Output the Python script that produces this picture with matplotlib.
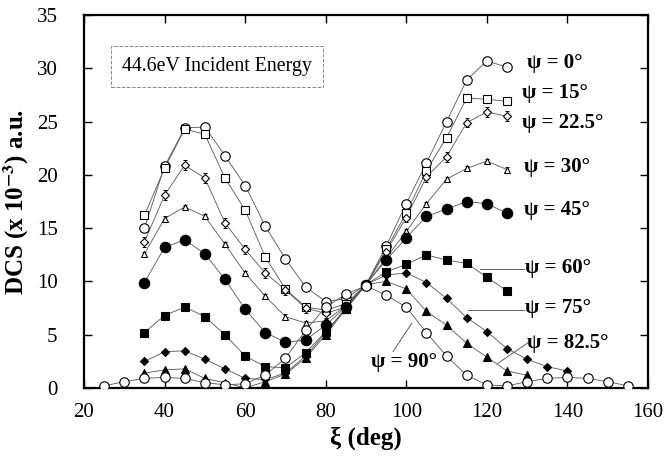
import matplotlib
matplotlib.use('Agg')
from matplotlib import pyplot as plt

# angles (deg) where points were measured
xi_a = [35, 40, 45, 50, 55, 60, 65, 70, 75, 80, 85, 90, 95, 100, 105, 110, 115, 120, 125]
xi_75 = xi_a + [130, 135, 140]
xi_825 = xi_a + [130]
xi_90 = [25, 30] + xi_a + [130, 135, 140, 145, 150, 155]

# DCS values (x 1e-3 a.u.)
dcs_0 = [15.0, 20.8, 24.4, 24.5, 21.8, 19.0, 15.2, 12.1, 9.5, 8.1, 8.4, 9.7,
         13.3, 17.3, 21.1, 25.0, 28.9, 30.7, 30.1]
dcs_15 = [16.2, 20.6, 24.3, 23.8, 19.7, 16.7, 12.3, 9.3, 7.6, 7.3, 7.9, 9.7,
          13.0, 16.4, 20.4, 23.5, 27.2, 27.1, 26.9]
dcs_225 = [13.7, 18.1, 20.9, 19.7, 15.5, 13.0, 10.8, 9.2, 7.5, 7.0, 7.6, 9.7,
           12.8, 16.0, 19.8, 21.7, 24.9, 25.9, 25.5]
dcs_30 = [12.6, 15.9, 17.0, 16.1, 13.5, 10.8, 8.6, 6.7, 6.1, 6.3, 7.7, 9.7,
          12.2, 14.7, 17.3, 19.6, 20.6, 21.3, 20.5]
dcs_45 = [9.9, 13.2, 13.9, 12.6, 10.2, 7.4, 5.2, 4.3, 4.5, 5.9, 7.6, 9.7,
          12.0, 14.1, 16.1, 16.8, 17.5, 17.3, 16.4]
dcs_60 = [5.2, 6.8, 7.6, 6.7, 5.0, 3.0, 2.0, 1.9, 3.3, 5.3, 7.4, 9.7,
          10.9, 11.6, 12.5, 12.0, 11.7, 10.4, 9.1]
dcs_75 = [2.5, 3.4, 3.5, 2.7, 1.8, 0.9, 0.8, 1.4, 3.0, 5.2, 7.5, 9.7,
          10.6, 10.8, 9.9, 8.4, 6.6, 5.3, 3.7, 2.7, 2.0, 1.6]
dcs_825 = [1.4, 1.7, 1.8, 0.9, 0.5, 0.0, 0.6, 1.3, 2.8, 5.0, 7.4, 9.7,
           10.0, 9.3, 7.2, 5.9, 4.2, 2.9, 1.6, 1.2]
dcs_90 = [0.2, 0.6, 0.9, 1.0, 0.9, 0.5, 0.3, 0.4, 1.2, 2.8, 5.4, 7.6, 8.8, 9.6,
          8.7, 7.6, 5.2, 3.0, 1.2, 0.3, 0.2, 0.6, 0.9, 1.0, 0.9, 0.6, 0.2]

labels = ['ψ = 0°', 'ψ = 15°', 'ψ = 22.5°', 'ψ = 30°', 'ψ = 45°',
          'ψ = 60°', 'ψ = 75°', 'ψ = 82.5°', 'ψ = 90°']

plt.rcParams['font.family'] = ['Liberation Serif', 'DejaVu Serif']
plt.rcParams['mathtext.fontset'] = 'stix'

fig = plt.figure(figsize=(6.65, 4.58), dpi=100)
ax = fig.add_axes([0.1263, 0.1528, 0.8481, 0.8144])

series = [
    (xi_a, dcs_0, 'o', 'white', 6.8, 0.35),
    (xi_a, dcs_15, 's', 'white', 5.5, 0.35),
    (xi_a, dcs_225, 'D', 'white', 3.8, 0.45),
    (xi_a, dcs_30, '^', 'white', 4.6, 0.2),
    (xi_a, dcs_45, 'o', 'black', 7.5, 0),
    (xi_a, dcs_60, 's', 'black', 6.0, 0),
    (xi_75, dcs_75, 'D', 'black', 4.5, 0),
    (xi_825, dcs_825, '^', 'black', 6.0, 0),
    (xi_90, dcs_90, 'o', 'white', 6.8, 0.3),
]

for xs, ys, mk, fc, ms, err in series:
    ax.plot(xs, ys, '-', color='#555555', lw=0.6, zorder=1)
    if err:
        ax.errorbar(xs, ys, yerr=err, fmt='none', ecolor='black',
                    elinewidth=0.7, capsize=1.5, capthick=0.7, zorder=2)
    ax.plot(xs, ys, ls='none', marker=mk, ms=ms, mfc=fc, mec='black',
            mew=0.8, zorder=3)

lab_font = dict(fontsize=15, fontweight='bold', va='center', ha='left')
ax.text(129.9, 30.5, labels[0], **lab_font)
ax.text(128.7, 27.7, labels[1], **lab_font)
ax.text(128.7, 24.9, labels[2], **lab_font)
ax.text(129.2, 20.7, labels[3], **lab_font)
ax.text(129.2, 16.7, labels[4], **lab_font)
ax.text(129.4, 11.3, labels[5], **lab_font)
ax.text(129.4, 7.5, labels[6], **lab_font)
ax.text(129.9, 4.2, labels[7], **lab_font)
ax.text(91.3, 2.4, labels[8], **lab_font)

# leader lines from labels to curves
ax.plot([118.3, 129.2], [11.2, 11.2], color='#444444', lw=0.6)
ax.plot([115.3, 129.2], [7.3, 7.3], color='#444444', lw=0.6)
ax.plot([122.7, 130.4], [2.3, 4.3], color='#444444', lw=0.6)
ax.plot([96.7, 101.4], [3.4, 6.1], color='#444444', lw=0.6)

ax.text(29.5, 30.15, '44.6eV Incident Energy', fontsize=14.3, va='center',
        ha='left', bbox=dict(boxstyle='square,pad=0.55', fc='white',
                             ec='#888888', ls='--', lw=0.7))

ax.set_xlim(20, 160)
ax.set_ylim(0, 35)
ax.set_xticks([20, 40, 60, 80, 100, 120, 140, 160])
ax.set_yticks([0, 5, 10, 15, 20, 25, 30, 35])
ax.tick_params(direction='in', length=6, width=1, top=True, right=True,
               labelsize=15)
ax.tick_params(axis='x', pad=11)
ax.tick_params(axis='y', pad=19)
for sp in ax.spines.values():
    sp.set_linewidth(1.6)

ax.set_xlabel('ξ (deg)', fontsize=18, fontweight='bold', labelpad=3)
ax.set_ylabel(r'DCS (x 10$^{\mathbf{-3}}$) a.u.', fontsize=18,
              fontweight='bold', labelpad=4)

fig.savefig('out.png', dpi=100)
